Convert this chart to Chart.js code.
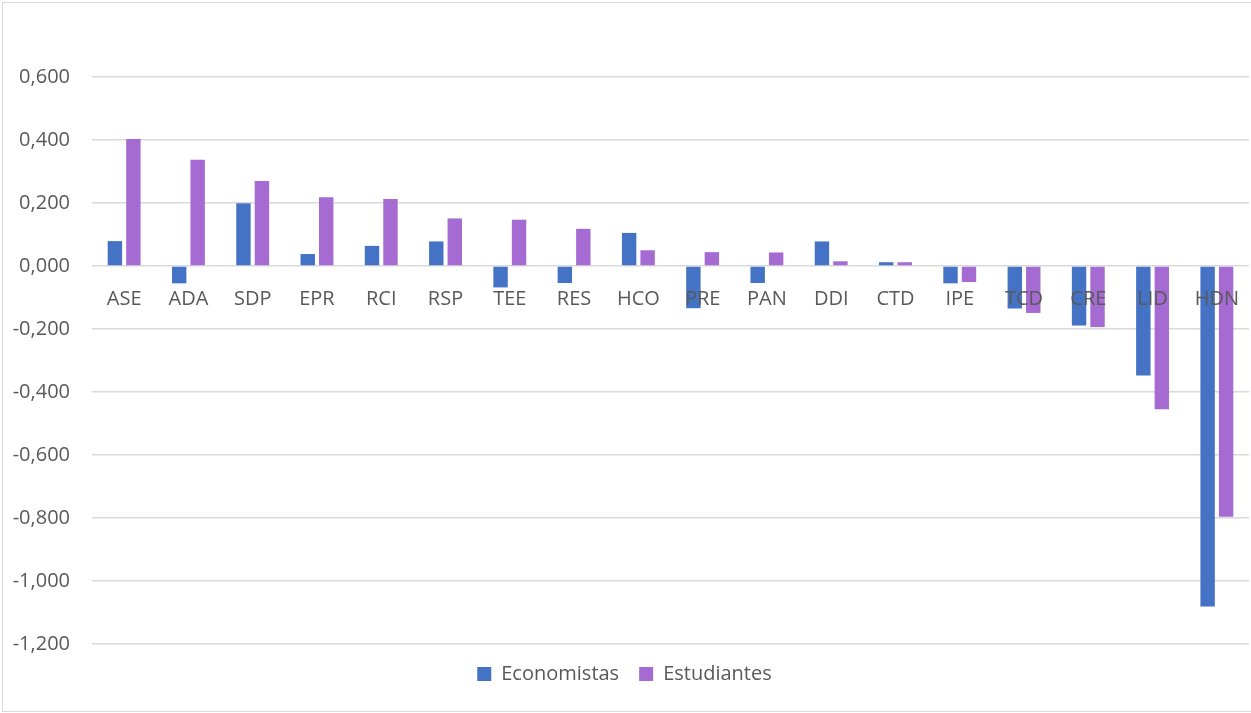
<!DOCTYPE html>
<html>
<head>
<meta charset="utf-8">
<script src="https://cdn.jsdelivr.net/npm/chart.js@4.4.1/dist/chart.umd.min.js"></script>
<style>
  html, body { margin: 0; padding: 0; background: #fff; }
  #wrap { position: relative; width: 1251px; height: 713px; overflow: hidden; }
  #frame {
    position: absolute; left: 2px; top: 2px; width: 1270px; height: 708px;
    border: 1px solid #d9d9d9; pointer-events: none;
  }
</style>
</head>
<body>
<div id="wrap">
  <canvas id="chart" width="1251" height="713"></canvas>
  <div id="frame"></div>
</div>
<script>
// Categories and series
const categories = ['ASE', 'ADA', 'SDP', 'EPR', 'RCI', 'RSP', 'TEE', 'RES', 'HCO',
  'PRE', 'PAN', 'DDI', 'CTD', 'IPE', 'TCD', 'CRE', 'LID', 'HDN'];
const economistas = [0.079, -0.055, 0.199, 0.038, 0.064, 0.078, -0.068, -0.054, 0.105,
  -0.134, -0.054, 0.078, 0.012, -0.055, -0.135, -0.189, -0.348, -1.081];
const estudiantes = [0.403, 0.337, 0.270, 0.218, 0.213, 0.151, 0.147, 0.118, 0.050,
  0.044, 0.043, 0.015, 0.012, -0.051, -0.149, -0.194, -0.455, -0.796];

const yMin = -1.2;
const yMax = 0.6;
const yStep = 0.2;

const textColor = '#595959';
const fontFamily = '"Open Sans", "Noto Sans", sans-serif';

// Category names sit on the zero line, over the bars
const zeroLineLabels = {
  id: 'zeroLineLabels',
  afterDatasetsDraw(chart) {
    const { ctx, scales } = chart;
    const y0 = scales.y.getPixelForValue(0);
    ctx.save();
    ctx.font = '20px ' + fontFamily;
    ctx.fillStyle = textColor;
    ctx.textAlign = 'center';
    ctx.textBaseline = 'alphabetic';
    categories.forEach((name, i) => {
      ctx.fillText(name, scales.x.getPixelForValue(i), y0 + 39);
    });
    ctx.restore();
  }
};

const ctx = document.getElementById('chart').getContext('2d');
new Chart(ctx, {
  type: 'bar',
  data: {
    labels: categories,
    datasets: [
      {
        label: 'Economistas',
        data: economistas,
        backgroundColor: '#4472c4',
        categoryPercentage: 0.575,
        barPercentage: 0.78
      },
      {
        label: 'Estudiantes',
        data: estudiantes,
        backgroundColor: '#a56bd2',
        categoryPercentage: 0.575,
        barPercentage: 0.78
      }
    ]
  },
  options: {
    responsive: false,
    animation: false,
    layout: { padding: { top: 77, right: 2, bottom: 19, left: 0 } },
    plugins: {
      tooltip: { enabled: false },
      legend: {
        position: 'bottom',
        labels: {
          boxWidth: 14,
          boxHeight: 14,
          padding: 20,
          color: textColor,
          font: { family: fontFamily, size: 20 }
        }
      }
    },
    scales: {
      x: {
        display: false
      },
      y: {
        min: yMin,
        max: yMax,
        border: { display: false },
        grid: { color: '#d9d9d9', lineWidth: 1.5, drawTicks: false },
        ticks: {
          stepSize: yStep,
          padding: 22,
          color: textColor,
          font: { family: fontFamily, size: 20 },
          callback: (v) => (Math.abs(v) < 1e-9 ? 0 : v).toFixed(3).replace('.', ',')
        },
        afterFit(scale) { scale.width = 92; }
      }
    }
  },
  plugins: [zeroLineLabels]
});
</script>
</body>
</html>
